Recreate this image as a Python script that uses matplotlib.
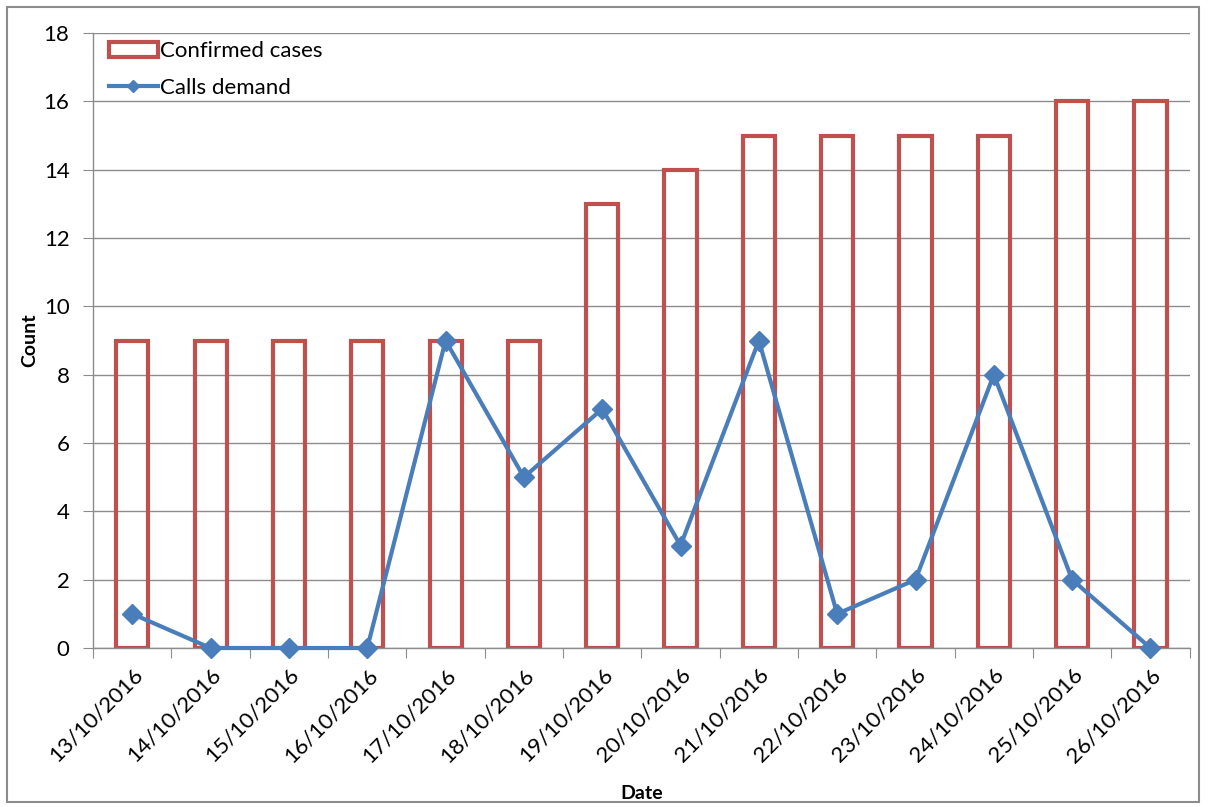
import matplotlib.pyplot as plt
from matplotlib.patches import Rectangle
import numpy as np

dates = ["13/10/2016", "14/10/2016", "15/10/2016", "16/10/2016", "17/10/2016",
         "18/10/2016", "19/10/2016", "20/10/2016", "21/10/2016", "22/10/2016",
         "23/10/2016", "24/10/2016", "25/10/2016", "26/10/2016"]
confirmed_cases = [9, 9, 9, 9, 9, 9, 13, 14, 15, 15, 15, 15, 16, 16]
calls_demand = [1, 0, 0, 0, 9, 5, 7, 3, 9, 1, 2, 8, 2, 0]

plt.rcParams['font.family'] = ['Lato', 'DejaVu Sans']

fig = plt.figure(figsize=(12.09, 8.07), dpi=100)
ax = fig.add_axes([0.077, 0.197, 0.907, 0.762])

x = np.arange(len(dates))
bars = ax.bar(x, confirmed_cases, width=0.41, facecolor='none', edgecolor='#C0504D',
              linewidth=3, label='Confirmed cases', zorder=2)
line, = ax.plot(x, calls_demand, color='#4A7EBB', linewidth=3, marker='D', markersize=10,
                label='Calls demand', zorder=3, clip_on=False)

ax.set_xlim(-0.5, len(dates) - 0.5)
ax.set_ylim(0, 18)
ax.set_yticks(range(0, 19, 2))
ax.yaxis.grid(True, color='#8C8C8C', linewidth=1)
ax.set_axisbelow(True)

# ticks between categories, labels centred on each category
ax.set_xticks(np.arange(-0.5, len(dates), 1))
ax.set_xticklabels([])
ax.set_xticks(x, minor=True)
ax.set_xticklabels(dates, minor=True, rotation=45, ha='right', rotation_mode='anchor',
                   fontsize=16)
ax.tick_params(axis='x', which='major', length=7, color='#8C8C8C', direction='out')
ax.tick_params(axis='x', which='minor', length=0, pad=12)
ax.tick_params(axis='y', length=7, color='#8C8C8C', labelsize=16, pad=10)

for side in ['top', 'right']:
    ax.spines[side].set_visible(False)
for side in ['left', 'bottom']:
    ax.spines[side].set_color('#8C8C8C')
    ax.spines[side].set_linewidth(1)

ax.set_ylabel('Count', fontsize=14, fontweight='bold', labelpad=4)
ax.set_xlabel('Date', fontsize=14, fontweight='bold')
ax.xaxis.set_label_coords(0.5, -0.222)

ax.legend([bars, line], ['Confirmed cases', 'Calls demand'], loc='upper left',
          frameon=False, fontsize=16, handlelength=2.2, handletextpad=0.1,
          borderaxespad=0.3, labelspacing=0.75, bbox_to_anchor=(0.0, 1.012),
          markerscale=0.6)

fig.patches.append(Rectangle((0.006, 0.006), 0.986, 0.985, transform=fig.transFigure,
                             facecolor='none', edgecolor='#8C8C8C', linewidth=1.5))

fig.savefig('out.png', dpi=100)
